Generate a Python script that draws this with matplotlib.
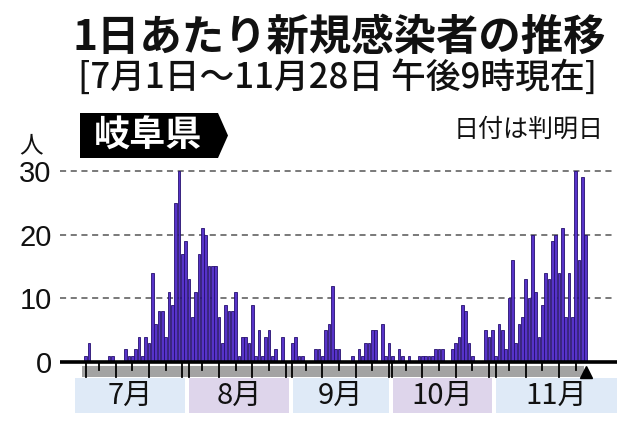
import numpy as np
import matplotlib.pyplot as plt
from matplotlib.patches import Rectangle, Polygon

plt.rcParams['font.family'] = ['Noto Sans CJK JP', 'DejaVu Sans']

# 1日あたりの新規感染者数(7/1〜11/28)
jul = [1, 3, 0, 0, 0, 0, 0, 1, 1, 0, 0, 0, 2, 1, 1, 2, 4, 1, 4, 3, 14, 6, 8, 8, 4, 11, 9, 25, 30, 17, 19]
aug = [13, 7, 11, 17, 21, 20, 15, 15, 15, 7, 3, 9, 8, 8, 11, 1, 4, 4, 3, 9, 1, 5, 1, 4, 5, 1, 2, 0, 4, 0, 0]
sep = [3, 4, 1, 1, 0, 0, 0, 2, 2, 1, 5, 6, 12, 2, 2, 0, 0, 0, 1, 0, 2, 1, 3, 3, 5, 5, 0, 6, 1, 3]
oct_ = [1, 0, 2, 1, 0, 1, 0, 0, 1, 1, 1, 1, 1, 2, 2, 2, 0, 0, 2, 3, 4, 9, 8, 3, 1, 0, 0, 0, 5, 4, 5]
nov = [1, 6, 5, 2, 10, 16, 3, 6, 7, 13, 10, 20, 11, 4, 9, 14, 13, 19, 20, 14, 21, 7, 14, 7, 30, 16, 29, 20]

months = ['7月', '8月', '9月', '10月', '11月']
month_data = [jul, aug, sep, oct_, nov]
yticks = [0, 10, 20, 30]

counts = np.concatenate(month_data)
days = np.arange(len(counts))

W, H = 640, 422
fig = plt.figure(figsize=(W / 100, H / 100), dpi=100)


def fx(px):
    return px / W


def fy(py):
    return 1 - py / H


# axes: pixel 60..620 horizontally, 165..416 vertically
ax = fig.add_axes([fx(60), fy(416), fx(620) - fx(60), fy(165) - fy(416)])
ax.set_xlim(-7.71, 160.3)
ax.set_ylim(-8.48, 30.94)
for s in ax.spines.values():
    s.set_visible(False)
ax.set_xticks([])
ax.set_yticks(yticks)
ax.set_yticklabels([str(t) for t in yticks], family='Liberation Sans', fontsize=21, color='#111111')
ax.tick_params(axis='y', length=0, pad=6)

# grid lines
for t in yticks[1:]:
    ax.plot([-7.71, 157.9], [t, t], ls=(0, (4, 3)), color='#555555', lw=1.1, zorder=1)

ax.bar(days, counts, width=0.72, color='#5733c9', edgecolor='#26106f', linewidth=0.6, zorder=3)
ax.plot([-7.71, 159.5], [0, 0], color='black', lw=2.6, zorder=4, solid_capstyle='butt')

# date band with ticks
ax.add_patch(Rectangle((-1.2, -2.36), 150.7, 1.73, facecolor='#a3a3a3', edgecolor='none', zorder=2))
ax.plot(150, -1.55, marker='^', ms=8, color='black', zorder=5, ls='none')

start = 0
box_colors = ['#dfeaf7', '#ded5eb']
for k, (name, d) in enumerate(zip(months, month_data)):
    n = len(d)
    for day in (1, 10, 20, 30):
        if day <= n and not (k == 4 and day > 28):
            ax.plot([start + day - 1] * 2, [0, -2.36], color='black', lw=1.3, zorder=4)
    for day in (5, 15, 25):
        if day <= n:
            ax.plot([start + day - 1] * 2, [0, -1.25], color='black', lw=1.3, zorder=4)
    x0 = start - 0.5 + 0.6
    x1 = start + n - 0.5 - 0.6
    if k == 0:
        x0 = -3.2
    if k == len(months) - 1:
        x1 = 159.4
    ax.add_patch(Rectangle((x0, -8.0), x1 - x0, 5.49, facecolor=box_colors[k % 2],
                           edgecolor='none', zorder=2))
    ax.text((x0 + x1) / 2, -5.3, name, ha='center', va='center', fontsize=21, color='#111111')
    start += n

# titles
fig.text(fx(339), fy(38), '1日あたり新規感染者の推移', ha='center', va='center',
         fontsize=30.5, fontweight='bold', color='#111111')
fig.text(fx(338), fy(78), '[7月1日～11月28日 午後9時現在]', ha='center', va='center',
         fontsize=25, fontweight='medium', color='#111111')

# prefecture label
fig.add_artist(Polygon([(fx(80), fy(113)), (fx(218), fy(113)), (fx(228), fy(135.5)),
                        (fx(218), fy(158)), (fx(80), fy(158))],
                       closed=True, facecolor='black', edgecolor='none', transform=fig.transFigure))
fig.text(fx(148), fy(136), '岐阜県', ha='center', va='center', fontsize=26,
         fontweight='bold', color='white')
fig.text(fx(529), fy(130), '日付は判明日', ha='center', va='center', fontsize=18, color='#111111')
fig.text(fx(31), fy(146), '人', ha='center', va='center', fontsize=17, color='#111111')

fig.savefig('out.png', dpi=100)
